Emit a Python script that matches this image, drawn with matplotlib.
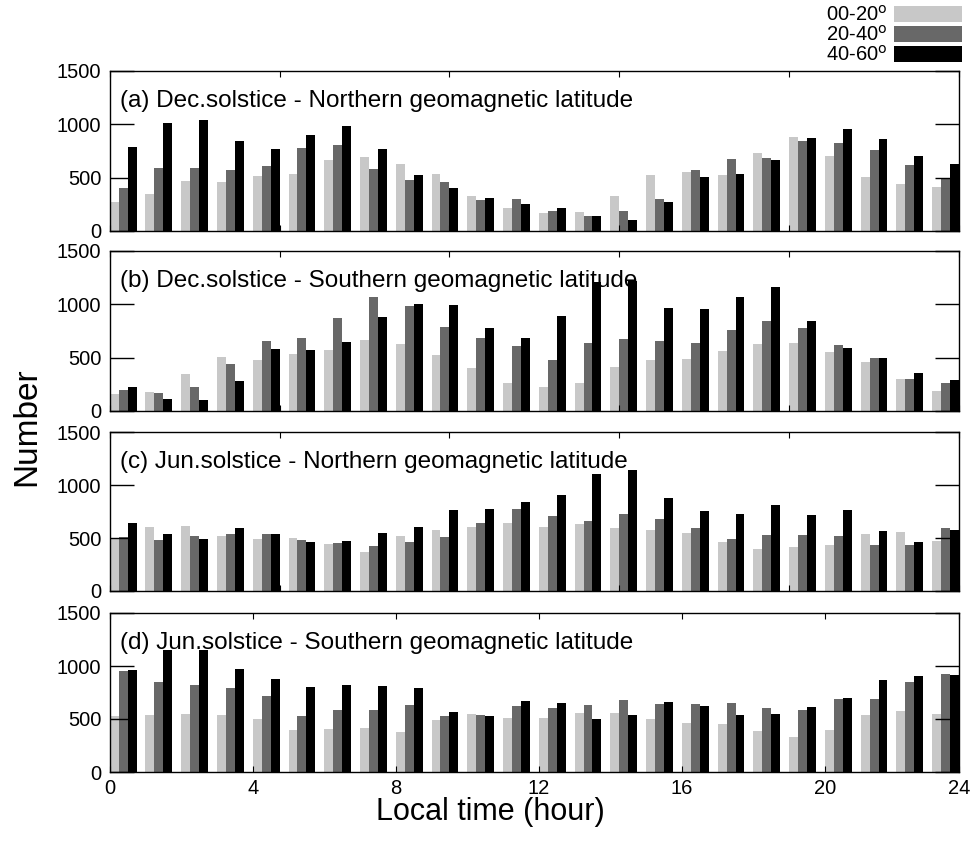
import matplotlib.pyplot as plt
import numpy as np

plt.rcParams['font.family'] = ['Liberation Sans', 'DejaVu Sans']

# Donnees (nombre d'evenements par heure locale)
hours = np.arange(24)
bands = ["00-20$^{\\rm o}$", "20-40$^{\\rm o}$", "40-60$^{\\rm o}$"]
colors = ["#c8c8c8", "#686868", "#000000"]

titles = ["(a) Dec.solstice - Northern geomagnetic latitude",
          "(b) Dec.solstice - Southern geomagnetic latitude",
          "(c) Jun.solstice - Northern geomagnetic latitude",
          "(d) Jun.solstice - Southern geomagnetic latitude"]

a_low = [275, 347, 469, 462, 516, 537, 669, 694, 628, 534, 328, 216,
         169, 178, 325, 528, 556, 528, 734, 878, 706, 509, 441, 416]
a_mid = [406, 594, 594, 572, 609, 775, 806, 584, 481, 456, 291, 303,
         188, 138, 188, 300, 569, 672, 684, 844, 825, 756, 616, 491]
a_high = [784, 1012, 1044, 844, 772, 900, 981, 766, 525, 403, 306, 250,
          216, 138, 100, 269, 506, 538, 669, 869, 956, 866, 706, 631]

b_low = [155, 176, 350, 507, 479, 530, 571, 665, 630, 527, 403, 265,
         221, 259, 416, 479, 489, 565, 628, 634, 552, 463, 296, 189]
b_mid = [199, 167, 227, 441, 658, 681, 876, 1069, 980, 788, 684, 611,
         479, 634, 678, 658, 637, 760, 848, 782, 618, 498, 300, 265]
b_high = [227, 110, 101, 284, 577, 571, 649, 882, 999, 990, 778, 684,
          889, 1210, 1215, 962, 956, 1069, 1158, 845, 590, 498, 353, 287]

c_low = [495, 608, 614, 523, 495, 501, 441, 365, 523, 573, 608, 639,
         602, 636, 592, 580, 545, 463, 400, 416, 438, 536, 554, 476]
c_mid = [513, 479, 517, 542, 542, 485, 454, 428, 466, 513, 643, 769,
         712, 665, 725, 677, 592, 488, 526, 529, 517, 438, 438, 592]
c_high = [643, 539, 495, 595, 542, 463, 473, 551, 605, 765, 778, 841,
          901, 1103, 1137, 879, 753, 728, 816, 721, 762, 567, 463, 580]

d_low = [526, 539, 548, 539, 498, 394, 406, 419, 378, 488, 548, 507,
         510, 561, 558, 501, 466, 450, 387, 328, 400, 542, 573, 551]
d_mid = [951, 851, 825, 797, 715, 532, 583, 589, 636, 532, 542, 624,
         605, 630, 677, 639, 643, 649, 602, 589, 684, 684, 847, 920]
d_high = [958, 1147, 1147, 973, 876, 803, 822, 813, 788, 570, 526, 668,
          649, 498, 536, 658, 621, 542, 551, 614, 696, 869, 904, 914]

panels = [(a_low, a_mid, a_high), (b_low, b_mid, b_high),
          (c_low, c_mid, c_high), (d_low, d_mid, d_high)]

W, H = 977, 842
left, right = 109.7, 959
tops = [71, 251, 432, 613]
bottoms = [231, 411, 591, 772]
width = 0.25
xmax = 23.75

fig = plt.figure(figsize=(W / 100, H / 100), dpi=100)

for k, (series, title) in enumerate(zip(panels, titles)):
    ax = fig.add_axes([left / W, 1 - bottoms[k] / H,
                       (right - left) / W, (bottoms[k] - tops[k]) / H])
    for j, vals in enumerate(series):
        ax.bar(hours + j * width, vals, width=width, align='edge',
               color=colors[j], label=bands[j], linewidth=0)
    ax.set_xlim(0, xmax)
    ax.set_ylim(0, 1500)
    ax.set_yticks([0, 500, 1000, 1500])
    ax.set_yticklabels(["0", "500", "1000", "1500"], fontsize=14.5)
    ax.tick_params(axis='y', direction='in', length=17, width=1,
                   left=True, right=True, pad=6)
    if k < 3:
        ax.set_xticks(np.linspace(0, xmax, 6))
        ax.tick_params(axis='x', direction='in', length=4, top=True,
                       bottom=True, labelbottom=False)
    else:
        ax.set_xticks([0, 4, 8, 12, 16, 20, xmax])
        ax.set_xticklabels(["0", "4", "8", "12", "16", "20", "24"], fontsize=14.5)
        ax.tick_params(axis='x', direction='in', length=4, top=True,
                       bottom=True, pad=5)
    for s in ax.spines.values():
        s.set_linewidth(1)
    ax.text(0.012, 0.88, title, transform=ax.transAxes, fontsize=17.5,
            va='top', ha='left')
    if k == 0:
        handles, labels = ax.get_legend_handles_labels()

# Legende en haut a droite
fig.legend(handles, labels, loc='upper right', bbox_to_anchor=(962 / W, 1 - 5 / H),
           frameon=False, fontsize=14.5, markerfirst=False, handlelength=3.4,
           handleheight=0.85, handletextpad=0.3, labelspacing=0.0,
           borderpad=0, borderaxespad=0)

fig.text(490 / W, 1 - 812 / H, "Local time (hour)", fontsize=22,
         ha='center', va='center')
fig.text(27 / W, 1 - 427 / H, "Number", fontsize=24, rotation=90,
         ha='center', va='center')

fig.savefig("out.png", dpi=100)
